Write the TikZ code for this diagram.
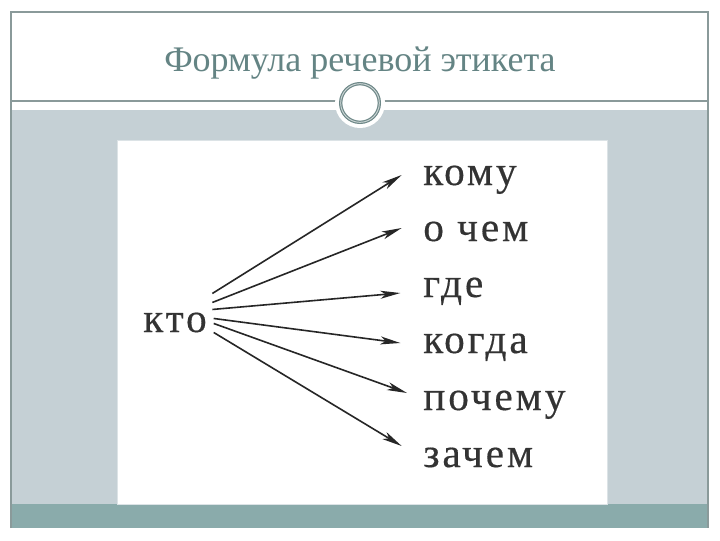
\documentclass[tikz,border=0pt]{standalone}
\usepackage{fontspec}
\setmainfont{Liberation Serif}
\newfontfamily\wordfont[LetterSpace=7, FakeBold=0.4]{Liberation Serif}
\usetikzlibrary{arrows.meta}
\definecolor{slidegray}{HTML}{C5D0D5}
\definecolor{stripteal}{HTML}{8AABAB}
\definecolor{framegray}{HTML}{8A9A9A}
\definecolor{titleteal}{HTML}{648484}
\definecolor{ringteal}{HTML}{6E8888}

\begin{document}
\begin{tikzpicture}[x=0.75pt,y=-0.75pt]

\tikzset{word/.style = {font=\wordfont\fontsize{31}{33}\selectfont, text=black!80, inner sep=0, anchor=base west}}
\tikzset{arr/.style = {-{Stealth[length=15pt,width=6pt,inset=4pt]}, line width=1.2pt, draw=black!85}}
\useasboundingbox (0,0) rectangle (720,540);
%slide
\fill[white] (0,0) rectangle (720,540);
\fill[slidegray] (11,110) rectangle (708,504);
\fill[stripteal] (11,504) rectangle (708,528);
\draw[framegray, line width=0.8pt] (11,528) -- (11,12) -- (708,12) -- (708,528);
\draw[framegray, line width=1pt] (11,101) -- (708,101);
\fill[white] (360,103) circle [radius=18.75pt];
\draw[ringteal, double=ringteal!35!white, double distance=0.7pt, line width=0.9pt] (360,103) circle [radius=14.5pt];
\filldraw[fill=white, draw=slidegray!60!white] (117,140) rectangle (607,504);
%title
\node[font=\fontsize{27}{30}\selectfont, text=titleteal, anchor=base] (title) at (360,71) {Формула речевой этикета};
%words
\node[word] (kto) at (143,332) {кто};
\node[word] (komu) at (423,185) {кому};
\node[word] (ochem) at (423,241) {о чем};
\node[word] (gde) at (423,297) {где};
\node[word] (kogda) at (423,353) {когда};
\node[word] (pochemu) at (423,410) {почему};
\node[word] (zachem) at (423,467) {зачем};
%arrows
\draw[arr] ([xshift=4pt, yshift=21.75pt]kto.east) -- ([xshift=-16pt, yshift=7.5pt]komu.base west);
\draw[arr] ([xshift=4pt, yshift=15pt]kto.east) -- ([xshift=-16pt, yshift=9.75pt]ochem.base west);
\draw[arr] ([xshift=4pt, yshift=9.75pt]kto.east) -- ([xshift=-17pt, yshift=3pt]gde.base west);
\draw[arr] ([xshift=5pt, yshift=3pt]kto.east) -- ([xshift=-17pt, yshift=7.5pt]kogda.base west);
\draw[arr] ([xshift=5pt, yshift=-0.75pt]kto.east) -- ([xshift=-12pt, yshift=12.75pt]pochemu.base west);
\draw[arr] ([xshift=5pt, yshift=-7.5pt]kto.east) -- ([xshift=-16pt, yshift=15.75pt]zachem.base west);

\end{tikzpicture}
\end{document}
